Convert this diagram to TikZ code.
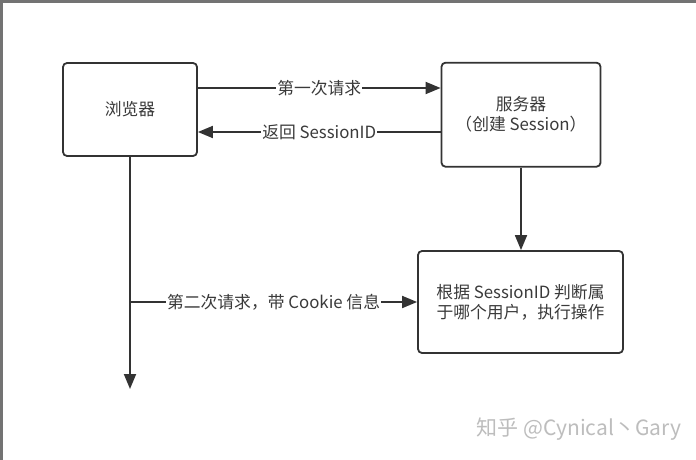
\documentclass[tikz,border=0pt]{standalone}
\usepackage{fontspec}
\setmainfont{Noto Sans CJK SC}
\usepackage{xcolor}
\usepackage{tikz}
\usetikzlibrary{arrows.meta,positioning}
\definecolor{linegray}{HTML}{333333}
\definecolor{textgray}{HTML}{3A3A3A}
\definecolor{markgray}{HTML}{BDBDBD}
\tikzset{
	block/.style={draw=linegray, line width=1.8pt, rounded corners=4pt, fill=white, align=center, text=textgray, font=\fontsize{16.8}{20}\selectfont},
	flow/.style={draw=linegray, line width=1.8pt, -{Triangle[length=15pt,width=12pt]}},
	tag/.style={fill=white, inner sep=1pt, text=textgray, font=\fontsize{16.8}{20}\selectfont}
}

\begin{document}
\begin{tikzpicture}[x=1pt,y=-1pt]
	\useasboundingbox (0,0) rectangle (696,460);
	\fill[white] (0,0) rectangle (696,460);
	\fill[black!55] (0,0) rectangle (696,3);
	\fill[black!55] (0,0) rectangle (3,460);

	\node[block, minimum width=134pt, minimum height=93pt] (browser) at (130,109.5) {浏览器};
	\node[block, minimum width=159pt, minimum height=104pt] (server) at (521,114.7) {服务器\\（创建 Session）};
	\node[block, minimum width=205pt, minimum height=102pt] (judge) at (520.5,302) {根据 SessionID 判断属\\于哪个用户，执行操作};

	\coordinate (req1) at ([yshift=21.5pt]browser.east);
	\coordinate (ret1) at ([yshift=-22.5pt]browser.east);
	\coordinate (down) at (130,389);

	\draw[flow] (req1) -- (req1 -| server.west) node[tag, midway] {第一次请求};
	\draw[flow] (ret1 -| server.west) -- (ret1) node[tag, midway] {返回 SessionID};
	\draw[flow] (server.south) -- (server.south |- judge.north);
	\draw[flow] (browser.south) -- (down);
	\draw[flow] (browser.south |- judge.west) -- (judge.west) node[tag, midway] {第二次请求，带 Cookie 信息};

	\node[text=markgray, font=\fontsize{21}{24}\selectfont] (mark) at (579,429) {知乎 @Cynical丶Gary};
\end{tikzpicture}
\end{document}
